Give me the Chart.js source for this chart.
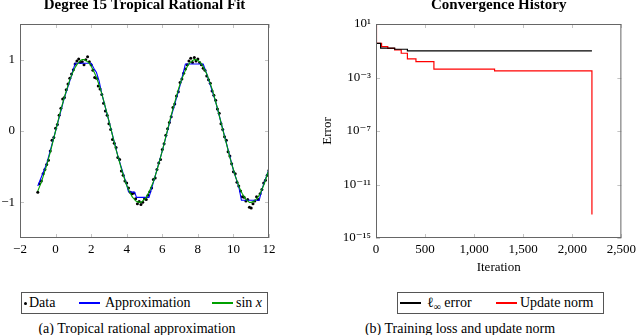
<!DOCTYPE html>
<html>
<head>
<meta charset="utf-8">
<script src="https://cdn.jsdelivr.net/npm/chart.js"></script>
<style>
  html, body { margin: 0; padding: 0; background: #fff; }
  body { width: 640px; height: 335px; position: relative; overflow: hidden; font-family: "Liberation Serif", serif; color: #000; }
  canvas { position: absolute; top: 0; }
  .legend { position: absolute; border: 1px solid #555; box-sizing: border-box; }
  .lt { position: absolute; font-size: 14px; line-height: 16px; white-space: nowrap; }
  .sw { position: absolute; display: block; height: 2px; }
  .dot { position: absolute; width: 3px; height: 3px; border-radius: 50%; background: #000; }
  .cap { position: absolute; font-size: 14px; line-height: 16px; white-space: nowrap; transform: translateX(-50%); }
  sub { font-size: 10px; vertical-align: -3px; line-height: 0; }
</style>
</head>
<body>
<canvas id="fitChart" width="320" height="262" style="left:0"></canvas>
<canvas id="convChart" width="320" height="275" style="left:320px"></canvas>

<div class="legend" style="left:21px;top:292px;width:247px;height:22px"></div>
<div class="dot" style="left:24px;top:302px"></div>
<span class="lt" style="left:29px;top:295px">Data</span>
<span class="sw" style="left:79px;top:302px;width:21px;background-color:rgb(0,0,255)"></span>
<span class="lt" style="left:105px;top:295px">Approximation</span>
<span class="sw" style="left:212px;top:302px;width:21px;background-color:rgb(0,160,0)"></span>
<span class="lt" style="left:236px;top:295px">sin <i>x</i></span>
<span class="cap" style="left:137px;top:321px">(a) Tropical rational approximation</span>

<div class="legend" style="left:397px;top:292px;width:207px;height:22px"></div>
<span class="sw" style="left:400px;top:302px;width:21px;background-color:rgb(0,0,0)"></span>
<span class="lt" style="left:427px;top:295px">ℓ<sub>∞</sub> error</span>
<span class="sw" style="left:496px;top:302px;width:21px;background-color:rgb(255,0,0)"></span>
<span class="lt" style="left:520px;top:295px">Update norm</span>
<span class="cap" style="left:460px;top:321px">(b) Training loss and update norm</span>

<script>
var dataX = [
  -1.0, -0.9, -0.8, -0.7, -0.6, -0.5, -0.4, -0.3, -0.2, -0.1,
  0.0, 0.1, 0.2, 0.3, 0.4, 0.5, 0.6, 0.7, 0.8, 0.9,
  1.0, 1.1, 1.2, 1.3, 1.4, 1.5, 1.6, 1.7, 1.8, 1.9,
  2.0, 2.1, 2.2, 2.3, 2.4, 2.5, 2.6, 2.7, 2.8, 2.9,
  3.0, 3.1, 3.2, 3.3, 3.4, 3.5, 3.6, 3.7, 3.8, 3.9,
  4.0, 4.1, 4.2, 4.3, 4.4, 4.5, 4.6, 4.7, 4.8, 4.9,
  5.0, 5.1, 5.2, 5.3, 5.4, 5.5, 5.6, 5.7, 5.8, 5.9,
  6.0, 6.1, 6.2, 6.3, 6.4, 6.5, 6.6, 6.7, 6.8, 6.9,
  7.0, 7.1, 7.2, 7.3, 7.4, 7.5, 7.6, 7.7, 7.8, 7.9,
  8.0, 8.1, 8.2, 8.3, 8.4, 8.5, 8.6, 8.7, 8.8, 8.9,
  9.0, 9.1, 9.2, 9.3, 9.4, 9.5, 9.6, 9.7, 9.8, 9.9,
  10.0, 10.1, 10.2, 10.3, 10.4, 10.5, 10.6, 10.7, 10.8, 10.9,
  11.0, 11.1, 11.2, 11.3, 11.4, 11.5, 11.6, 11.7, 11.8, 11.9,
  12.0
];
var dataY = [
  -0.86, -0.74, -0.70, -0.60, -0.54, -0.47, -0.41, -0.28, -0.13, -0.09,
  0.04, 0.09, 0.22, 0.32, 0.45, 0.47, 0.58, 0.66, 0.74, 0.80,
  0.86, 0.94, 0.98, 1.01, 0.96, 0.97, 0.93, 1.00, 1.04, 0.97,
  0.93, 0.85, 0.75, 0.74, 0.63, 0.59, 0.51, 0.39, 0.28, 0.22,
  0.10, 0.02, -0.12, -0.17, -0.23, -0.37, -0.40, -0.56, -0.62, -0.70,
  -0.73, -0.80, -0.86, -0.88, -0.87, -0.95, -1.02, -0.99, -1.03, -1.00,
  -0.95, -0.96, -0.90, -0.85, -0.80, -0.68, -0.66, -0.54, -0.45, -0.40,
  -0.26, -0.18, -0.06, 0.03, 0.12, 0.20, 0.33, 0.38, 0.49, 0.55,
  0.68, 0.73, 0.81, 0.87, 0.93, 0.98, 1.02, 0.96, 1.03, 0.98,
  1.01, 0.96, 0.93, 0.88, 0.85, 0.77, 0.72, 0.67, 0.56, 0.50,
  0.43, 0.31, 0.25, 0.10, 0.02, -0.08, -0.13, -0.29, -0.35, -0.46,
  -0.57, -0.60, -0.72, -0.77, -0.84, -0.92, -0.93, -0.98, -0.96, -1.07,
  -1.08, -1.02, -0.98, -0.92, -0.96, -0.88, -0.82, -0.73, -0.69, -0.62,
  -0.55
];
var sinY = [
  -0.84, -0.78, -0.72, -0.64, -0.56, -0.48, -0.39, -0.30, -0.20, -0.10,
  0.00, 0.10, 0.20, 0.30, 0.39, 0.48, 0.56, 0.64, 0.72, 0.78,
  0.84, 0.89, 0.93, 0.96, 0.99, 1.00, 1.00, 0.99, 0.97, 0.95,
  0.91, 0.86, 0.81, 0.75, 0.68, 0.60, 0.52, 0.43, 0.33, 0.24,
  0.14, 0.04, -0.06, -0.16, -0.26, -0.35, -0.44, -0.53, -0.61, -0.69,
  -0.76, -0.82, -0.87, -0.92, -0.95, -0.98, -0.99, -1.00, -1.00, -0.98,
  -0.96, -0.93, -0.88, -0.83, -0.77, -0.71, -0.63, -0.55, -0.46, -0.37,
  -0.28, -0.18, -0.08, 0.02, 0.12, 0.22, 0.31, 0.40, 0.49, 0.58,
  0.66, 0.73, 0.79, 0.85, 0.90, 0.94, 0.97, 0.99, 1.00, 1.00,
  0.99, 0.97, 0.94, 0.90, 0.85, 0.80, 0.73, 0.66, 0.59, 0.50,
  0.41, 0.32, 0.22, 0.12, 0.02, -0.08, -0.17, -0.27, -0.37, -0.46,
  -0.54, -0.63, -0.70, -0.77, -0.83, -0.88, -0.92, -0.96, -0.98, -1.00,
  -1.00, -0.99, -0.98, -0.95, -0.92, -0.88, -0.82, -0.76, -0.69, -0.61,
  -0.54
];
var approxX = [-1.0, -0.5, 0.0, 0.5, 0.9, 1.1, 2.0, 2.15, 2.3, 2.45, 2.6, 3.0, 3.5, 4.0, 4.1, 4.45, 4.55, 5.25, 5.5, 6.0, 6.5, 7.0, 7.3, 8.3, 8.5, 9.0, 9.5, 10.0, 10.3, 10.45, 11.45, 11.6, 12.0];
var approxY = [-0.77, -0.46, 0.0, 0.47, 0.78, 0.95, 0.95, 0.88, 0.82, 0.70, 0.52, 0.14, -0.35, -0.76, -0.85, -0.86, -0.93, -0.93, -0.72, -0.28, 0.20, 0.64, 0.94, 0.94, 0.80, 0.41, -0.07, -0.55, -0.78, -0.97, -0.97, -0.82, -0.53];
var fitXTicks = [-2, 0, 2, 4, 6, 8, 10, 12];
var fitYTicks = [-1, 0, 1];

var errIter = [0, 47, 190, 320, 2200];
var errVal = [0.36, 0.155, 0.13, 0.097, 0.097];
var updIter = [0, 5, 57, 120, 190, 257, 320, 407, 590, 1208, 2200];
var updVal = [10, 0.36, 0.2, 0.15, 0.115, 0.065, 0.025, 0.0155, 0.0042, 0.0031, 5.6e-14];
var iterTicks = [0, 500, 1000, 1500, 2000, 2500];
var errTicks = [1e1, 1e-3, 1e-7, 1e-11, 1e-15];

(function () {
    Chart.defaults.font.family = '"Liberation Serif", "DejaVu Serif", serif';
    Chart.defaults.font.size = 13;
    Chart.defaults.color = '#000';

    function pairs(xs, ys) {
        return xs.map(function (x, i) { return { x: x, y: ys[i] }; });
    }

    function minus(v) {
        return String(v).replace('-', '\u2212');
    }

    var sup = { '-': '\u207b', '0': '\u2070', '1': '\u00b9', '2': '\u00b2', '3': '\u00b3', '4': '\u2074', '5': '\u2075', '6': '\u2076', '7': '\u2077', '8': '\u2078', '9': '\u2079' };
    function pow10(v) {
        var e = String(Math.round(Math.log10(v)));
        return '10' + e.split('').map(function (c) { return sup[c]; }).join('');
    }

    function fixedTicks(list) {
        return function (scale) {
            scale.ticks = list.map(function (v) { return { value: v }; });
        };
    }

    // pgfplots style frame with small inward tick marks on all four sides,
    // and the title centred over the plot box instead of the whole canvas
    var framePlugin = {
        id: 'frame',
        afterLayout: function (chart) {
            if (chart.titleBlock) {
                chart.titleBlock.left = chart.chartArea.left;
                chart.titleBlock.right = chart.chartArea.right;
            }
        },
        afterDraw: function (chart) {
            var a = chart.chartArea, ctx = chart.ctx;
            ctx.save();
            ctx.strokeStyle = '#c4c4c4';
            ctx.lineWidth = 1;
            Object.keys(chart.scales).forEach(function (id) {
                var s = chart.scales[id];
                s.ticks.forEach(function (t) {
                    var p = Math.round(s.getPixelForValue(t.value)) + 0.5;
                    ctx.beginPath();
                    if (s.isHorizontal()) {
                        ctx.moveTo(p, a.bottom); ctx.lineTo(p, a.bottom - 4);
                        ctx.moveTo(p, a.top); ctx.lineTo(p, a.top + 4);
                    } else {
                        ctx.moveTo(a.left, p); ctx.lineTo(a.left + 4, p);
                        ctx.moveTo(a.right, p); ctx.lineTo(a.right - 4, p);
                    }
                    ctx.stroke();
                });
            });
            ctx.strokeStyle = '#666';
            ctx.strokeRect(a.left + 0.5, a.top + 0.5, a.right - a.left - 1, a.bottom - a.top - 1);
            ctx.restore();
        }
    };

    var titleFont = { size: 15, weight: 'bold', lineHeight: 0.7 };
    var noGrid = { display: false, drawTicks: false, tickLength: 0 };

    new Chart(document.getElementById('fitChart'), {
        type: 'scatter',
        data: {
            datasets: [
                { label: 'Data', data: pairs(dataX, dataY), pointRadius: 1.5, pointBackgroundColor: '#000', pointBorderWidth: 0, order: 2 },
                { label: 'Approximation', data: pairs(approxX, approxY), showLine: true, borderColor: '#0000ff', borderWidth: 1.1, pointRadius: 0, order: 1 },
                { label: 'sin x', data: pairs(dataX, sinY), showLine: true, borderColor: '#00a000', borderWidth: 1.1, pointRadius: 0, order: 0 }
            ]
        },
        options: {
            responsive: false,
            animation: false,
            layout: { padding: { left: 0, right: 51, top: 0, bottom: 0 } },
            plugins: {
                legend: { display: false },
                tooltip: { enabled: false },
                title: { display: true, text: 'Degree 15 Tropical Rational Fit', font: titleFont, padding: { top: 0, bottom: 13.5 } }
            },
            scales: {
                x: {
                    type: 'linear', min: -2, max: 12,
                    grid: noGrid, border: { display: false },
                    afterBuildTicks: fixedTicks(fitXTicks),
                    afterFit: function (s) { s.height = 24; },
                    ticks: { padding: 4, callback: function (v) { return minus(v); } }
                },
                y: {
                    type: 'linear', min: -1.5, max: 1.5,
                    grid: noGrid, border: { display: false },
                    afterBuildTicks: fixedTicks(fitYTicks),
                    afterFit: function (s) { s.width = 20; },
                    ticks: { padding: 5, callback: function (v) { return minus(v); } }
                }
            }
        },
        plugins: [framePlugin]
    });

    new Chart(document.getElementById('convChart'), {
        type: 'line',
        data: {
            datasets: [
                { label: '\u2113\u221e error', data: pairs(errIter, errVal), borderColor: '#000', borderWidth: 1.2, pointRadius: 0, stepped: 'before' },
                { label: 'Update norm', data: pairs(updIter, updVal), borderColor: '#ff0000', borderWidth: 1.2, pointRadius: 0, stepped: 'before' }
            ]
        },
        options: {
            responsive: false,
            animation: false,
            layout: { padding: { left: 0, right: 15, top: 0, bottom: 0 } },
            plugins: {
                legend: { display: false },
                tooltip: { enabled: false },
                title: { display: true, text: 'Convergence History', font: titleFont, padding: { top: 0, bottom: 13.5 } }
            },
            scales: {
                x: {
                    type: 'linear', min: 0, max: 2500,
                    grid: noGrid, border: { display: false },
                    afterBuildTicks: fixedTicks(iterTicks),
                    afterFit: function (s) { s.height = 37; },
                    ticks: { padding: 4, callback: function (v) { return v.toLocaleString('en-US'); } },
                    title: { display: true, text: 'Iteration', padding: { top: 0, bottom: 0 } }
                },
                y: {
                    type: 'logarithmic', min: 1e-15, max: 10,
                    grid: noGrid, border: { display: false },
                    afterBuildTicks: fixedTicks(errTicks),
                    afterFit: function (s) { s.width = 56; },
                    ticks: { padding: 5, callback: function (v) { return pow10(v); } },
                    title: { display: true, text: 'Error', padding: { top: 0, bottom: 0 } }
                }
            }
        },
        plugins: [framePlugin]
    });
})();
</script>
</body>
</html>
